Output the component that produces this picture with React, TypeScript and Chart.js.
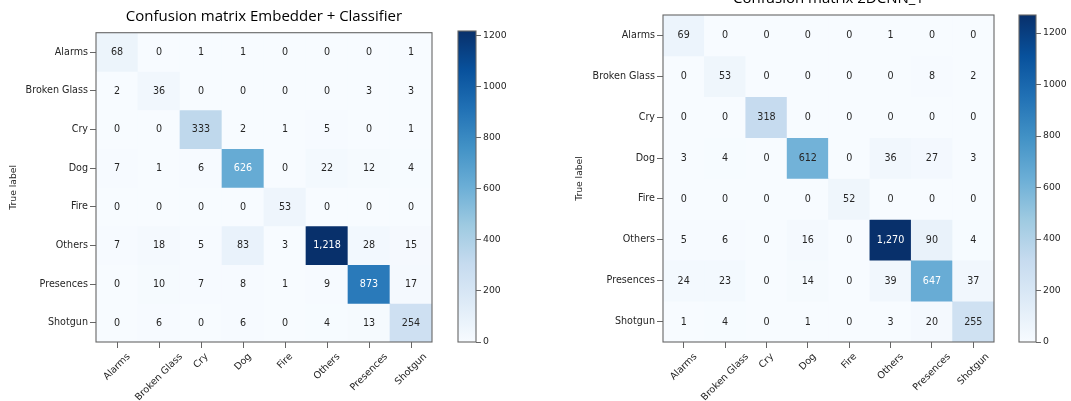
import React, { useEffect, useRef } from "react";
import { Chart, registerables } from "chart.js";

Chart.register(...registerables);

// Class names shared by both matrices (rows = true label, columns = predicted label)
const classNames = ["Alarms", "Broken Glass", "Cry", "Dog", "Fire", "Others", "Presences", "Shotgun"];

// Confusion matrix of the embedder + classifier model
const embedderMatrix: number[][] = [
  [68, 0, 1, 1, 0, 0, 0, 1],
  [2, 36, 0, 0, 0, 0, 3, 3],
  [0, 0, 333, 2, 1, 5, 0, 1],
  [7, 1, 6, 626, 0, 22, 12, 4],
  [0, 0, 0, 0, 53, 0, 0, 0],
  [7, 18, 5, 83, 3, 1218, 28, 15],
  [0, 10, 7, 8, 1, 9, 873, 17],
  [0, 6, 0, 6, 0, 4, 13, 254],
];

// Confusion matrix of the 2D CNN model
const cnnMatrix: number[][] = [
  [69, 0, 0, 0, 0, 1, 0, 0],
  [0, 53, 0, 0, 0, 0, 8, 2],
  [0, 0, 318, 0, 0, 0, 0, 0],
  [3, 4, 0, 612, 0, 36, 27, 3],
  [0, 0, 0, 0, 52, 0, 0, 0],
  [5, 6, 0, 16, 0, 1270, 90, 4],
  [24, 23, 0, 14, 0, 39, 647, 37],
  [1, 4, 0, 1, 0, 3, 20, 255],
];

// Colour bar tick values
const colorbarTicks = [0, 200, 400, 600, 800, 1000, 1200];

// Sequential "Blues" colour ramp, evenly spaced stops from low to high
const bluesStops: number[][] = [
  [247, 251, 255],
  [222, 235, 247],
  [198, 219, 239],
  [158, 202, 225],
  [107, 174, 214],
  [66, 146, 198],
  [33, 113, 181],
  [8, 81, 156],
  [8, 48, 107],
];

function blues(t: number): string {
  const x = Math.max(0, Math.min(1, t)) * (bluesStops.length - 1);
  const i = Math.min(Math.floor(x), bluesStops.length - 2);
  const f = x - i;
  const a = bluesStops[i];
  const b = bluesStops[i + 1];
  const c = a.map((v, k) => Math.round(v + (b[k] - v) * f));
  return `rgb(${c[0]},${c[1]},${c[2]})`;
}

const TICK_FONT = { family: "DejaVu Sans", size: 9.6 };
const TEXT_COLOR = "#262626";
const LINE_COLOR = "#666";

// Outline around the plotting area
const framePlugin = {
  id: "frame",
  afterDatasetsDraw(chart: any) {
    const { ctx, chartArea: a } = chart;
    ctx.save();
    ctx.strokeStyle = LINE_COLOR;
    ctx.lineWidth = 1.1;
    ctx.strokeRect(a.left, a.top, a.right - a.left, a.bottom - a.top);
    ctx.restore();
  },
};

// Centre each rotated x label horizontally on its tick
const centeredRotatedLabels = {
  id: "centeredRotatedLabels",
  beforeDraw(chart: any) {
    const scale = chart.scales.x;
    if (!scale || !scale.options.display) return;
    const items = scale.getLabelItems();
    if (items._centered) return;
    const ctx = chart.ctx;
    ctx.save();
    items.forEach((item: any) => {
      ctx.font = item.font.string;
      const w = ctx.measureText(String(item.label)).width;
      item.options.translation[0] += (w * Math.SQRT1_2) / 2;
    });
    ctx.restore();
    items._centered = true;
  },
};

type MatrixBox = {
  left: number;
  top: number;
  width: number;
  height: number;
  yAxisWidth: number;
  xAxisHeight: number;
  padRight: number;
  titlePadTop: number;
  titlePadBottom: number;
  yTitlePad: number;
};

type ColorbarBox = {
  left: number;
  top: number;
  width: number;
  height: number;
  padLeft: number;
  padTop: number;
  padBottom: number;
  axisWidth: number;
};

function MatrixChart({ title, matrix, vmax, box }: { title: string; matrix: number[][]; vmax: number; box: MatrixBox }) {
  const ref = useRef<HTMLCanvasElement>(null);

  useEffect(() => {
    if (!ref.current) return;

    // Cell values printed at the centre of each cell
    const cellText = {
      id: "cellText",
      afterDatasetsDraw(chart: any) {
        const { ctx } = chart;
        ctx.save();
        ctx.font = `${TICK_FONT.size}px "${TICK_FONT.family}"`;
        ctx.textAlign = "center";
        ctx.textBaseline = "middle";
        chart.data.datasets.forEach((_: any, r: number) => {
          chart.getDatasetMeta(r).data.forEach((bar: any, c: number) => {
            const v = matrix[r][c];
            const p = bar.getCenterPoint();
            ctx.fillStyle = v > vmax / 2 ? "#ffffff" : TEXT_COLOR;
            ctx.fillText(v.toLocaleString("en-US"), p.x, p.y + 0.5);
          });
        });
        ctx.restore();
      },
    };

    const chart = new Chart(ref.current, {
      type: "bar",
      data: {
        labels: classNames,
        datasets: matrix.map((row, r) => ({
          label: classNames[r],
          stack: "cells",
          data: row.map(() => [r - 0.5, r + 0.5]) as any,
          backgroundColor: row.map((v) => blues(v / vmax)),
          borderWidth: 0,
          barPercentage: 1,
          categoryPercentage: 1,
        })),
      },
      options: {
        animation: false,
        responsive: false,
        maintainAspectRatio: false,
        layout: { padding: { left: 0, right: box.padRight, top: 0, bottom: 0 } },
        plugins: {
          legend: { display: false },
          tooltip: { enabled: false },
          title: {
            display: true,
            text: title,
            fullSize: false,
            color: "#000",
            font: { family: "Open Sans", size: 15, weight: "normal" },
            padding: { top: box.titlePadTop, bottom: box.titlePadBottom },
          },
        },
        scales: {
          x: {
            type: "category",
            stacked: true,
            offset: true,
            border: { display: false },
            grid: {
              display: true,
              offset: false,
              drawOnChartArea: false,
              drawTicks: true,
              tickLength: 6,
              tickColor: LINE_COLOR,
            },
            ticks: {
              autoSkip: false,
              minRotation: 45,
              maxRotation: 45,
              padding: 3,
              color: TEXT_COLOR,
              font: TICK_FONT,
            },
            afterFit: (s: any) => {
              s.height = box.xAxisHeight;
            },
          },
          y: {
            type: "linear",
            stacked: false,
            reverse: true,
            min: -0.5,
            max: 7.5,
            border: { display: false },
            grid: {
              display: true,
              drawOnChartArea: false,
              drawTicks: true,
              tickLength: 6,
              tickColor: LINE_COLOR,
            },
            afterBuildTicks: (s: any) => {
              s.ticks = classNames.map((_, i) => ({ value: i }));
            },
            ticks: {
              autoSkip: false,
              padding: 2,
              color: TEXT_COLOR,
              font: TICK_FONT,
              callback: (v: any) => classNames[Math.round(Number(v))],
            },
            title: {
              display: true,
              text: "True label",
              color: TEXT_COLOR,
              font: { family: "DejaVu Sans", size: 9.2 },
              padding: { top: box.yTitlePad, bottom: 0 },
            },
            afterFit: (s: any) => {
              s.width = box.yAxisWidth;
            },
          },
        },
      } as any,
      plugins: [framePlugin, cellText, centeredRotatedLabels],
    });

    return () => chart.destroy();
  }, [title, matrix, vmax, box]);

  return (
    <canvas
      ref={ref}
      width={box.width}
      height={box.height}
      style={{ position: "absolute", left: box.left, top: box.top, width: box.width, height: box.height }}
    />
  );
}

function Colorbar({ vmax, box }: { vmax: number; box: ColorbarBox }) {
  const ref = useRef<HTMLCanvasElement>(null);

  useEffect(() => {
    if (!ref.current) return;
    const chart = new Chart(ref.current, {
      type: "bar",
      data: {
        labels: [""],
        datasets: [
          {
            data: [[0, vmax]] as any,
            borderWidth: 0,
            inflateAmount: 0,
            barPercentage: 1,
            categoryPercentage: 1,
            backgroundColor: (c: any) => {
              const area = c.chart.chartArea;
              if (!area) return blues(0.5);
              const g = c.chart.ctx.createLinearGradient(0, area.bottom, 0, area.top);
              bluesStops.forEach((rgb, i) => g.addColorStop(i / (bluesStops.length - 1), `rgb(${rgb.join(",")})`));
              return g;
            },
          },
        ],
      },
      options: {
        animation: false,
        responsive: false,
        maintainAspectRatio: false,
        layout: { padding: { left: box.padLeft, right: 0, top: box.padTop, bottom: box.padBottom } },
        plugins: { legend: { display: false }, tooltip: { enabled: false }, title: { display: false } },
        scales: {
          x: { display: false },
          y: {
            position: "right",
            min: 0,
            max: vmax,
            border: { display: false },
            grid: { display: true, drawOnChartArea: false, drawTicks: true, tickLength: 5, tickColor: LINE_COLOR },
            afterBuildTicks: (s: any) => {
              s.ticks = colorbarTicks.filter((t) => t <= vmax).map((value) => ({ value }));
            },
            ticks: {
              padding: 2,
              color: TEXT_COLOR,
              font: { family: "DejaVu Sans", size: 9.3 },
              callback: (v: any) => String(v),
            },
            afterFit: (s: any) => {
              s.width = box.axisWidth;
            },
          },
        },
      } as any,
      plugins: [framePlugin],
    });
    return () => chart.destroy();
  }, [vmax, box]);

  return (
    <canvas
      ref={ref}
      width={box.width}
      height={box.height}
      style={{ position: "absolute", left: box.left, top: box.top, width: box.width, height: box.height }}
    />
  );
}

const leftBox: MatrixBox = {
  left: 0,
  top: 0,
  width: 440,
  height: 401,
  yAxisWidth: 96,
  xAxisHeight: 59,
  padRight: 8,
  titlePadTop: 7.6,
  titlePadBottom: 7.1,
  yTitlePad: 7.6,
};

const rightBox: MatrixBox = {
  left: 560,
  top: -12,
  width: 440,
  height: 413,
  yAxisWidth: 103,
  xAxisHeight: 59,
  padRight: 6,
  titlePadTop: 1.7,
  titlePadBottom: 7.3,
  yTitlePad: 13.6,
};

const leftBar: ColorbarBox = {
  left: 440,
  top: 0,
  width: 80,
  height: 401,
  padLeft: 18,
  padTop: 31,
  padBottom: 59,
  axisWidth: 44,
};

const rightBar: ColorbarBox = {
  left: 1000,
  top: 0,
  width: 71,
  height: 401,
  padLeft: 19,
  padTop: 15,
  padBottom: 59,
  axisWidth: 35,
};

export default function App() {
  return (
    <div
      style={{
        position: "absolute",
        left: 0,
        top: 0,
        width: 1071,
        height: 401,
        overflow: "hidden",
        background: "#ffffff",
      }}
    >
      <MatrixChart title="Confusion matrix Embedder + Classifier" matrix={embedderMatrix} vmax={1218} box={leftBox} />
      <Colorbar vmax={1218} box={leftBar} />
      <MatrixChart title="Confusion matrix 2DCNN_1" matrix={cnnMatrix} vmax={1270} box={rightBox} />
      <Colorbar vmax={1270} box={rightBar} />
    </div>
  );
}
